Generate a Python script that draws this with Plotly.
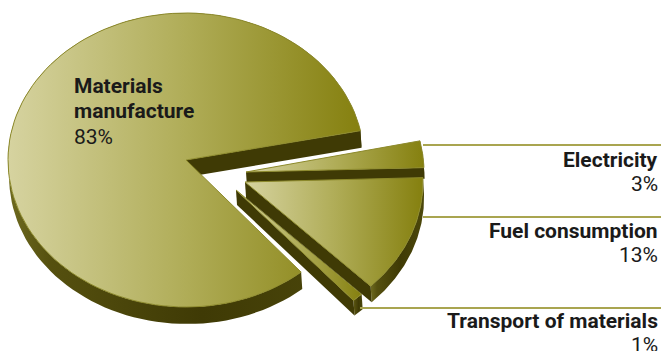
import numpy as np
import plotly.graph_objects as go

# Share of each life-cycle stage
labels = ["Materials\nmanufacture", "Electricity", "Fuel consumption", "Transport of materials"]
values = [83, 3, 13, 1]

# Slice layout: apex position, in drawing order
apex = {
    "Materials\nmanufacture": (186, 160),
    "Electricity": (246, 172),
    "Fuel consumption": (245, 182),
    "Transport of materials": (236, 190),
}
order = ["Materials\nmanufacture", "Electricity", "Transport of materials", "Fuel consumption"]
wall_depth = {"Materials\nmanufacture": 17, "Electricity": 11, "Fuel consumption": 16, "Transport of materials": 15}
RX, RY = 178, 147
LARGE_START = 11.5
SMALL_START = 12.5

TOP_SCALE = [[0, "#d6d3a0"], [0.5, "#b0ad58"], [1, "#85800f"]]
RIM_SCALE = [[0, "#6e6a20"], [0.12, "#55500f"], [0.55, "#3f3a05"], [1, "#4c480b"]]
WALL = "#3f3a05"
EDGE = "#8d8a2c"

fig = go.Figure()


def polygon(x, y, **kw):
    fig.add_trace(go.Scatter(x=x, y=y, mode="lines", fill="toself", hoverinfo="skip",
                             showlegend=False, **kw))


# Angular range per slice: the large one runs counter-clockwise, the small ones clockwise
spans = {labels[0]: (LARGE_START, LARGE_START + values[0] * 3.6)}
a = SMALL_START
for name, v in zip(labels[1:], values[1:]):
    spans[name] = (a, a - v * 3.6)
    a -= v * 3.6

for name in order:
    cx, cy = apex[name]
    a0, a1 = spans[name]
    t = np.radians(np.linspace(a0, a1, 120))
    ax = cx + RX * np.cos(t)
    ay = cy - RY * np.sin(t)
    d = wall_depth[name]
    dx = d / 15

    # outer rim
    polygon(np.r_[ax, (ax + dx)[::-1], ax[0]], np.r_[ay, (ay + d)[::-1], ay[0]],
            line=dict(width=0), fillcolor=WALL,
            fillgradient=dict(type="horizontal", colorscale=RIM_SCALE))

    # cut wall facing the viewer
    if name == labels[0]:
        ex, ey = ax[0], ay[0]
    else:
        ex, ey = ax[-1], ay[-1]
    polygon([cx, ex, ex + dx, cx + dx, cx], [cy, ey, ey + d, cy + d, cy],
            line=dict(width=0), fillcolor=WALL)

    # top face
    polygon(np.r_[cx, ax, cx], np.r_[cy, ay, cy],
            line=dict(width=1, color=EDGE), fillcolor="#b0ad58",
            fillgradient=dict(type="horizontal", colorscale=TOP_SCALE))

# Leader lines to the labels on the right
leaders_x = [423, 423, 360]
leaders_y = [145, 217, 308]
for x0, y0 in zip(leaders_x, leaders_y):
    fig.add_trace(go.Scatter(x=[x0, 661], y=[y0, y0], mode="lines", hoverinfo="skip", showlegend=False,
                             line=dict(color="#a9a550", width=2)))

FONT = "Roboto"
TEXT = "#1a1a1a"


def label(x, y, text, anchor, bold):
    fig.add_annotation(x=x, y=y, text=f"<b>{text}</b>" if bold else text, showarrow=False,
                       xanchor=anchor, yanchor="middle", xref="x", yref="y",
                       font=dict(family=FONT, size=21, color=TEXT), borderpad=0)


first, second = labels[0].split("\n")
label(73, 86, first, "left", True)
label(73, 111, second, "left", True)
label(73, 137, f"{values[0]}%", "left", False)
for name, v, y in zip(labels[1:], values[1:], [160, 231, 321]):
    label(659, y, name, "right", True)
    label(659, y + 24, f"{v}%", "right", False)

fig.update_layout(
    width=661, height=351, margin=dict(l=0, r=0, t=0, b=0),
    paper_bgcolor="white", plot_bgcolor="white", showlegend=False,
    xaxis=dict(range=[0, 661], visible=False, fixedrange=True),
    yaxis=dict(range=[351, 0], visible=False, fixedrange=True),
)
fig.write_html("out.html", config={"displayModeBar": False})
